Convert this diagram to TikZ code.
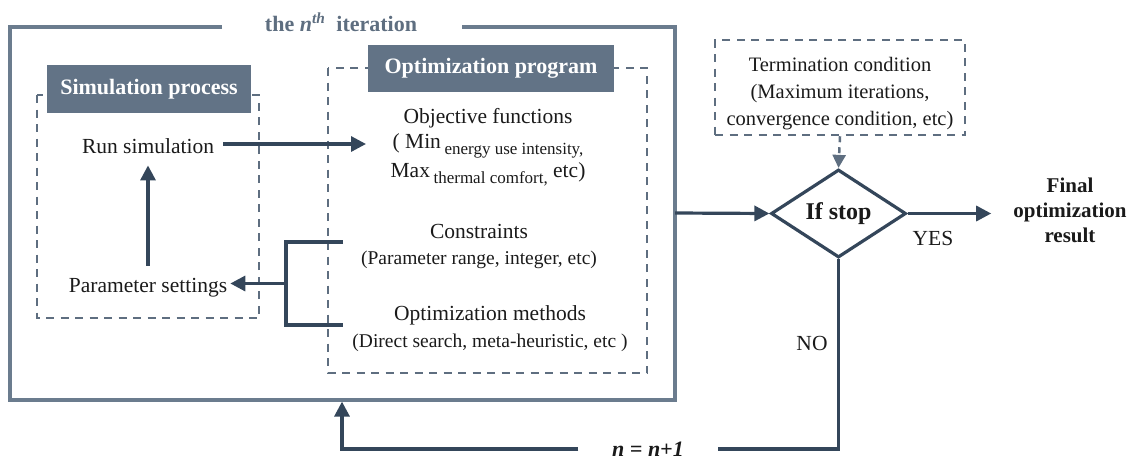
\documentclass[tikz,border=0pt]{standalone}
\usepackage{fontspec}
\setmainfont{Liberation Serif}
\usetikzlibrary{arrows.meta,shapes.geometric,calc}
\definecolor{framec}{HTML}{6B7C8E}
\definecolor{darkc}{HTML}{34465A}
\definecolor{dashc}{HTML}{5E6E80}
\definecolor{headc}{HTML}{627386}
\definecolor{textc}{HTML}{1A1A1A}
\newcommand{\fs}[1]{\fontsize{#1}{#1}\selectfont}
\begin{document}
\begin{tikzpicture}[x=1pt,y=-1pt,
  txt/.style={font=\fs{21.5}, text=textc, inner sep=0pt, anchor=base},
  ptxt/.style={font=\fs{19.5}, text=textc, inner sep=0pt, anchor=base},
  hdr/.style={fill=headc, text=white, font=\fs{22}\bfseries, inner sep=0pt},
  dbox/.style={draw=dashc, line width=2.5pt, dash pattern=on 8pt off 6.5pt},
  framel/.style={draw=framec, line width=3.2pt},
  ln/.style={draw=darkc, line width=3.2pt},
  arr/.style={draw=darkc, line width=3.2pt, -{Triangle[length=15pt,width=15pt]}},
  darr/.style={draw=dashc, line width=2.5pt, dash pattern=on 6pt off 5pt, -{Triangle[length=13pt,width=13pt]}}]
\useasboundingbox (0,0) rectangle (1134,461);

% outer iteration frame
\node[font=\fs{22}\bfseries, text=dashc, inner sep=0pt, anchor=base] (title) at (341,31) {the \textit{n}\textsuperscript{\textit{th}}\ \ iteration};
\draw[framel] (222,27) -- (10,27) -- (10,400) -- (675,400) -- (675,27) -- (462,27);
\coordinate (oR) at (675,213);
\coordinate (oB) at (342,401.6);

% simulation process
\draw[dbox] (37,95) rectangle (259,318);
\node[hdr, minimum width=204pt, minimum height=48pt] (simh) at (149,89) {Simulation process};
\node[txt] (run) at (148,153) {Run simulation};
\node[txt] (param) at (148,292) {Parameter settings};

% optimization program
\draw[dbox] (328,68) rectangle (647,373);
\node[hdr, minimum width=246pt, minimum height=47pt] (opth) at (491,68.5) {Optimization program};
\node[txt] (obj) at (488,123) {Objective functions};
\node[txt] (min) at (488,148) {( Min\,\raisebox{-6pt}{\fs{17}energy use intensity,}};
\node[txt] (max) at (488,177) {Max\,\raisebox{-6pt}{\fs{17}thermal comfort,} etc)};
\node[txt] (cons) at (479,238) {Constraints};
\node[ptxt] (prange) at (479,264) {(Parameter range, integer, etc)};
\node[txt] (meth) at (490,320) {Optimization methods};
\node[ptxt] (dsearch) at (490,347) {(Direct search, meta-heuristic, etc )};

\coordinate (objin) at (366,144);
\coordinate (bt) at (343,242);
\coordinate (bb) at (343,325);
\coordinate (bj) at (286,283.5);

\draw[arr] ($(run.east |- objin)+(9,0)$) -- (objin);
\draw[arr] ($(param.north)+(0,-12)$) -- ($(run.south)+(0,12)$);
\draw[ln] (bt) -| (bj) |- (bb);
\draw[arr] (bj) -- ($(param.east |- bj)+(3,0)$);

% termination
\node[dbox, minimum width=250pt, minimum height=95pt, inner sep=0pt] (term) at (840,87.5) {};
\node[font=\fs{20.5}, text=textc, inner sep=0pt, anchor=base] (t1) at (840,71) {Termination condition};
\node[font=\fs{20.5}, text=textc, inner sep=0pt, anchor=base] (t2) at (840,98) {(Maximum iterations,};
\node[font=\fs{20.5}, text=textc, inner sep=0pt, anchor=base] (t3) at (840,125) {convergence condition, etc)};

% decision
\node[diamond, draw=darkc, line width=3.2pt, minimum width=135pt, minimum height=69pt, inner sep=0pt, font=\fs{24}\bfseries, text=textc] (dia) at (838.5,213.5) {If stop};
\draw[darr] (term.south) -- (dia.north);
\draw[arr] (oR) -- (dia.west);

\node[font=\fs{21}\bfseries, text=textc, inner sep=0pt, anchor=base] (f1) at (1070,192) {Final};
\node[font=\fs{21}\bfseries, text=textc, inner sep=0pt, anchor=base] (final) at (1070,217) {optimization};
\node[font=\fs{21}\bfseries, text=textc, inner sep=0pt, anchor=base] (f3) at (1070,242) {result};
\draw[arr] (dia.east) -- ($(final.west |- dia.east)+(-22,0)$);

\node[txt] (yes) at (933,245) {YES};
\node[txt] (no) at (812,350) {NO};

\node[font=\fs{22}\bfseries\itshape, text=textc, inner sep=0pt, minimum width=139pt] (inc) at (648,449) {n = n+1};
\draw[ln] (dia.south) |- (inc.east);
\draw[arr] (inc.west) -| (oB);
\end{tikzpicture}
\end{document}
